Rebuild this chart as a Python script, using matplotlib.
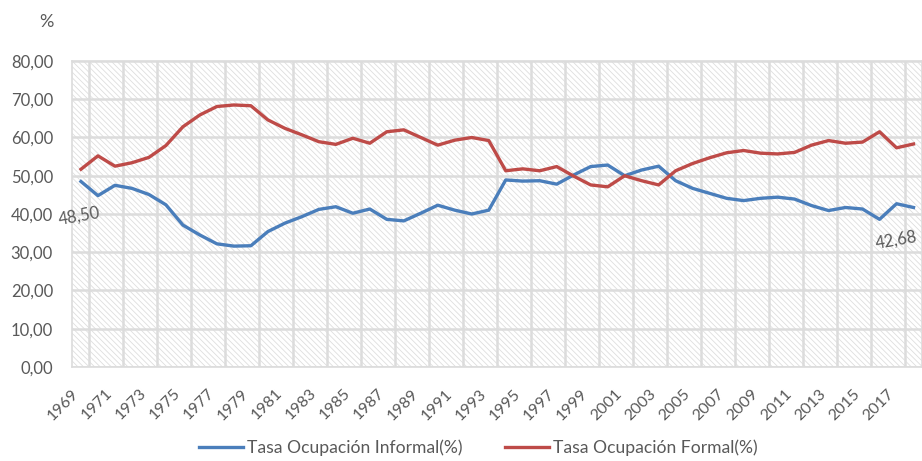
import matplotlib
matplotlib.use("Agg")
import matplotlib.pyplot as plt
from matplotlib.patches import Rectangle
from matplotlib.ticker import FixedLocator, FuncFormatter

years = list(range(1969, 2019))

informal = [48.50, 44.8, 47.5, 46.7, 45.1, 42.4, 37.1, 34.5, 32.2, 31.6,
            31.7, 35.4, 37.6, 39.3, 41.2, 41.9, 40.2, 41.3, 38.6, 38.2,
            40.2, 42.3, 41.0, 40.0, 41.0, 48.9, 48.6, 48.7, 47.8, 50.2,
            52.4, 52.8, 50.0, 51.5, 52.5, 48.7, 46.7, 45.4, 44.1, 43.5,
            44.1, 44.4, 43.9, 42.2, 40.9, 41.7, 41.3, 38.6, 42.68, 41.7]

formal = [51.7, 55.2, 52.5, 53.4, 54.8, 57.9, 62.8, 65.9, 68.1, 68.5,
          68.3, 64.6, 62.4, 60.7, 58.9, 58.2, 59.8, 58.5, 61.5, 62.0,
          60.0, 58.0, 59.3, 60.0, 59.2, 51.3, 51.8, 51.3, 52.4, 49.9,
          47.6, 47.1, 50.0, 48.7, 47.6, 51.3, 53.2, 54.7, 56.0, 56.6,
          55.9, 55.7, 56.1, 58.0, 59.2, 58.5, 58.8, 61.5, 57.3, 58.3]

plt.rcParams["font.family"] = ["Lato", "DejaVu Sans"]
plt.rcParams["hatch.linewidth"] = 0.6
grey_txt = "#595959"
grid_c = "#dcdcdc"

fig = plt.figure(figsize=(9.22, 4.61), dpi=100)
ax = fig.add_axes([0.0786, 0.2039, 0.9214, 0.6638])

x = list(range(len(years)))

# hatched background of the plot area
ax.add_patch(Rectangle((0, 0), 1, 1, transform=ax.transAxes, facecolor="white",
                       edgecolor="#dedede", hatch="\\" * 6, linewidth=0, zorder=0))

ax.plot(x, informal, color="#4a7ebb", lw=2.4, label="Tasa Ocupación Informal(%)",
        zorder=3, solid_joinstyle="round")
ax.plot(x, formal, color="#be4b48", lw=2.4, label="Tasa Ocupación Formal(%)",
        zorder=3, solid_joinstyle="round")

# data labels (first value and 2017)
ax.annotate("48,50", (0, informal[0]), xytext=(-1, -25), textcoords="offset points",
            ha="center", va="center", rotation=10, fontsize=12, color=grey_txt, zorder=4)
ax.annotate("42,68", (48, informal[48]), xytext=(0, -26), textcoords="offset points",
            ha="center", va="center", rotation=10, fontsize=12, color=grey_txt, zorder=4)

ax.set_xlim(-0.5, len(years) - 0.5)
ax.set_ylim(0, 80)
ax.set_yticks(range(0, 81, 10))
ax.yaxis.set_major_formatter(FuncFormatter(lambda v, p: f"{v:.2f}".replace(".", ",")))

ax.set_xticks(x[::2])
ax.set_xticklabels([str(y) for y in years[::2]], rotation=45, ha="right", va="top")
ax.xaxis.set_minor_locator(FixedLocator([i + 0.5 for i in range(0, len(years), 2)]))

ax.grid(True, axis="y", color=grid_c, lw=1.8, zorder=1)
ax.grid(True, axis="x", which="minor", color=grid_c, lw=1.8, zorder=1)

ax.tick_params(axis="both", which="both", length=0, labelcolor=grey_txt, labelsize=12)
ax.tick_params(axis="y", pad=14)
ax.tick_params(axis="x", pad=14, labelsize=11.5)
for s in ax.spines.values():
    s.set_color(grid_c)
    s.set_linewidth(1.2)

fig.text(0.05, 0.952, "%", ha="center", va="center", fontsize=13, color=grey_txt)

fig.legend(loc="center", bbox_to_anchor=(0.519, 0.028), ncol=2, frameon=False,
           fontsize=12.6, handlelength=2.5, columnspacing=2.4, handletextpad=0.25,
           labelcolor=grey_txt)

fig.savefig("out.png", dpi=100)
